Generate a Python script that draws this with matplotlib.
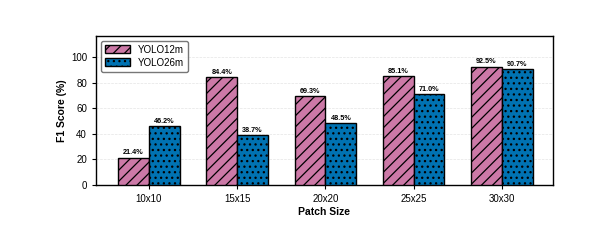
import matplotlib
matplotlib.use("Agg")
import matplotlib.pyplot as plt
import numpy as np

plt.rcParams['font.family'] = ['Liberation Sans', 'DejaVu Sans']
plt.rcParams['hatch.linewidth'] = 0.9

patch_sizes = ['10x10', '15x15', '20x20', '25x25', '30x30']
yolo12m = [21.4, 84.4, 69.3, 85.1, 92.5]
yolo26m = [46.2, 38.7, 48.5, 71.0, 90.7]

fig = plt.figure(figsize=(5.91, 2.40), dpi=100)
ax = fig.add_axes([96/591, 1 - 185/240, (553-96)/591, (185-36)/240])

x = np.arange(len(patch_sizes))
w = 0.35
b1 = ax.bar(x - w/2, yolo12m, w, color='#CC79A7', edgecolor='black', linewidth=1.0,
            hatch='///', label='YOLO12m', zorder=3)
b2 = ax.bar(x + w/2, yolo26m, w, color='#0072B2', edgecolor='black', linewidth=1.0,
            hatch='...', label='YOLO26m', zorder=3)

for bars in (b1, b2):
    for rect in bars:
        h = rect.get_height()
        ax.text(rect.get_x() + rect.get_width()/2, h + 1, f'{h:.1f}%',
                ha='center', va='bottom', fontsize=5.2, fontweight='bold')

ax.set_xlim(-0.6, 4.58)
ax.set_ylim(0, 116.4)
ax.set_yticks([0, 20, 40, 60, 80, 100])
ax.set_xticks(x)
ax.set_xticklabels(patch_sizes)
ax.tick_params(labelsize=7, length=3, width=0.8)
ax.set_xlabel('Patch Size', fontsize=7.5, fontweight='bold', labelpad=2)
ax.set_ylabel('F1 Score (%)', fontsize=7.5, fontweight='bold', labelpad=3)
ax.yaxis.grid(True, linestyle='--', linewidth=0.5, color='#dddddd', alpha=0.8, zorder=0)
ax.set_axisbelow(True)
for s in ax.spines.values():
    s.set_linewidth(1.0)

ax.legend(loc='upper left', fontsize=7, frameon=True, edgecolor='#555555',
          handlelength=2.6, handleheight=0.9, borderpad=0.4, labelspacing=0.3)

plt.savefig('out.png', dpi=100)
